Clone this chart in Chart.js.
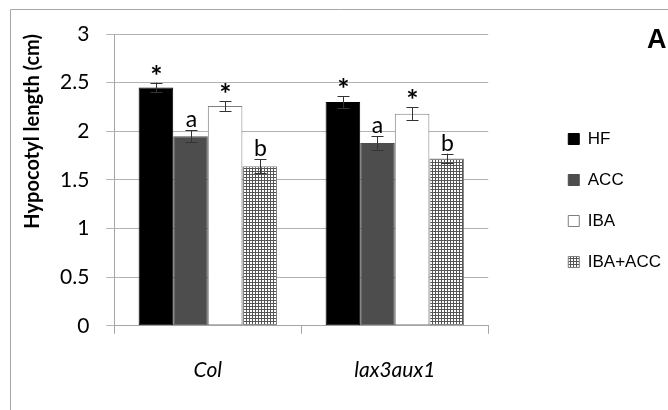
<!DOCTYPE html>
<html lang="en">
<head>
    <meta charset="UTF-8">
    <title>Hypocotyl length</title>
    <script src="https://cdn.jsdelivr.net/npm/chart.js"></script>
    <style>
        body {
            margin: 0;
            padding: 0;
            background: #fff;
        }
        #wrap {
            width: 668px;
            height: 410px;
        }
    </style>
</head>
<body>
<div id="wrap"><canvas id="hypocotylChart" width="668" height="410"></canvas></div>

<script>
    // Genotypes and treatments
    const genotypes = ['Col', 'lax3aux1'];
    const treatments = ['HF', 'ACC', 'IBA', 'IBA+ACC'];

    // Mean hypocotyl length (cm) per genotype
    const hfMeans = [2.45, 2.30];
    const accMeans = [1.95, 1.88];
    const ibaMeans = [2.26, 2.18];
    const ibaAccMeans = [1.64, 1.72];

    // Error bar half-widths
    const hfErrors = [0.05, 0.06];
    const accErrors = [0.06, 0.07];
    const ibaErrors = [0.05, 0.065];
    const ibaAccErrors = [0.07, 0.05];

    // Significance marks above each bar
    const hfMarks = ['*', '*'];
    const accMarks = ['a', 'a'];
    const ibaMarks = ['*', '*'];
    const ibaAccMarks = ['b', 'b'];

    const yTicks = [0, 0.5, 1, 1.5, 2, 2.5, 3];

    // fine grid fill for IBA+ACC
    function gridPattern() {
        const c = document.createElement('canvas');
        c.width = 3;
        c.height = 3;
        const g = c.getContext('2d');
        g.fillStyle = '#ffffff';
        g.fillRect(0, 0, 3, 3);
        g.fillStyle = '#555555';
        g.fillRect(0, 0, 3, 1);
        g.fillRect(0, 0, 1, 3);
        return g.createPattern(c, 'repeat');
    }

    const errorBars = {
        id: 'errorBars',
        afterDatasetsDraw(chart) {
            const ctx = chart.ctx;
            const y = chart.scales.y;
            ctx.save();
            chart.data.datasets.forEach((ds, i) => {
                const meta = chart.getDatasetMeta(i);
                meta.data.forEach((bar, j) => {
                    const top = y.getPixelForValue(ds.data[j] + ds.errors[j]);
                    const bottom = y.getPixelForValue(ds.data[j] - ds.errors[j]);
                    const x = Math.round(bar.x) + 0.5;
                    ctx.strokeStyle = '#333333';
                    ctx.lineWidth = 1;
                    ctx.beginPath();
                    ctx.moveTo(x, top);
                    ctx.lineTo(x, bottom);
                    ctx.moveTo(x - 6, Math.round(top) + 0.5);
                    ctx.lineTo(x + 6, Math.round(top) + 0.5);
                    ctx.moveTo(x - 6, Math.round(bottom) + 0.5);
                    ctx.lineTo(x + 6, Math.round(bottom) + 0.5);
                    ctx.stroke();

                    // significance mark
                    const mark = ds.marks[j];
                    ctx.fillStyle = '#000';
                    ctx.textAlign = 'center';
                    ctx.textBaseline = 'alphabetic';
                    if (mark === '*') {
                        ctx.font = 'bold 29px Lato';
                        ctx.fillText(mark, x, top + 3);
                    } else {
                        ctx.font = '23px Lato';
                        ctx.fillText(mark, x, top - 3);
                    }
                });
            });
            ctx.restore();
        }
    };

    // frame lines and panel letter
    const frame = {
        id: 'frame',
        beforeDraw(chart) {
            const ctx = chart.ctx;
            ctx.save();
            ctx.fillStyle = '#fff';
            ctx.fillRect(0, 0, chart.width, chart.height);
            ctx.strokeStyle = '#a6a6a6';
            ctx.lineWidth = 1;
            ctx.beginPath();
            ctx.moveTo(10.5, chart.height);
            ctx.lineTo(10.5, 9.5);
            ctx.lineTo(chart.width, 9.5);
            ctx.stroke();
            ctx.restore();
        },
        afterDraw(chart) {
            const ctx = chart.ctx;
            ctx.save();
            ctx.fillStyle = '#000';
            ctx.font = 'bold 27px "Liberation Sans"';
            ctx.textAlign = 'left';
            ctx.fillText('A', 647, 48);
            ctx.restore();
        }
    };

    // push the legend out to the right of the plot and up a bit
    const legendShift = {
        id: 'legendShift',
        afterLayout(chart) {
            const lg = chart.legend;
            lg.left += 56;
            lg.right += 56;
            lg.top -= 20;
            lg.bottom -= 20;
        }
    };

    new Chart(document.getElementById('hypocotylChart'), {
        type: 'bar',
        data: {
            labels: genotypes,
            datasets: [
                { label: treatments[0], data: hfMeans, errors: hfErrors, marks: hfMarks,
                  backgroundColor: '#000000', borderColor: '#000000', borderWidth: 1 },
                { label: treatments[1], data: accMeans, errors: accErrors, marks: accMarks,
                  backgroundColor: '#4d4d4d', borderColor: '#4d4d4d', borderWidth: 1 },
                { label: treatments[2], data: ibaMeans, errors: ibaErrors, marks: ibaMarks,
                  backgroundColor: '#ffffff', borderColor: '#7f7f7f', borderWidth: 1 },
                { label: treatments[3], data: ibaAccMeans, errors: ibaAccErrors, marks: ibaAccMarks,
                  backgroundColor: gridPattern(), borderColor: '#7f7f7f', borderWidth: 1 }
            ]
        },
        options: {
            responsive: false,
            animation: false,
            layout: {
                padding: { left: 23, right: 53, top: 34, bottom: 3 }
            },
            datasets: {
                bar: {
                    categoryPercentage: 0.74,
                    barPercentage: 1.0,
                    borderSkipped: false
                }
            },
            plugins: {
                tooltip: { enabled: false },
                legend: {
                    position: 'right',
                    labels: {
                        color: '#000',
                        boxWidth: 11,
                        boxHeight: 11,
                        padding: 24,
                        font: { family: '"Liberation Sans"', size: 17 }
                    }
                }
            },
            scales: {
                x: {
                    grid: {
                        offset: true,
                        drawOnChartArea: false,
                        color: '#a6a6a6',
                        tickLength: 8
                    },
                    border: { color: '#a6a6a6' },
                    ticks: {
                        color: '#000',
                        padding: 24,
                        font: { family: 'Lato', size: 21, style: 'italic' }
                    }
                },
                y: {
                    min: 0,
                    max: 3,
                    afterBuildTicks(scale) {
                        scale.ticks = yTicks.map(v => ({ value: v }));
                    },
                    grid: {
                        color: '#b3b3b3',
                        tickLength: 8
                    },
                    border: { color: '#a6a6a6' },
                    ticks: {
                        color: '#000',
                        padding: 17,
                        font: { family: 'Lato', size: 21 },
                        callback: v => String(v)
                    },
                    title: {
                        display: true,
                        text: 'Hypocotyl length (cm)',
                        align: 'end',
                        color: '#000',
                        padding: 0,
                        font: { family: 'Lato', size: 20, weight: 'bold', lineHeight: 1 }
                    }
                }
            }
        },
        plugins: [frame, errorBars, legendShift]
    });
</script>
</body>
</html>
